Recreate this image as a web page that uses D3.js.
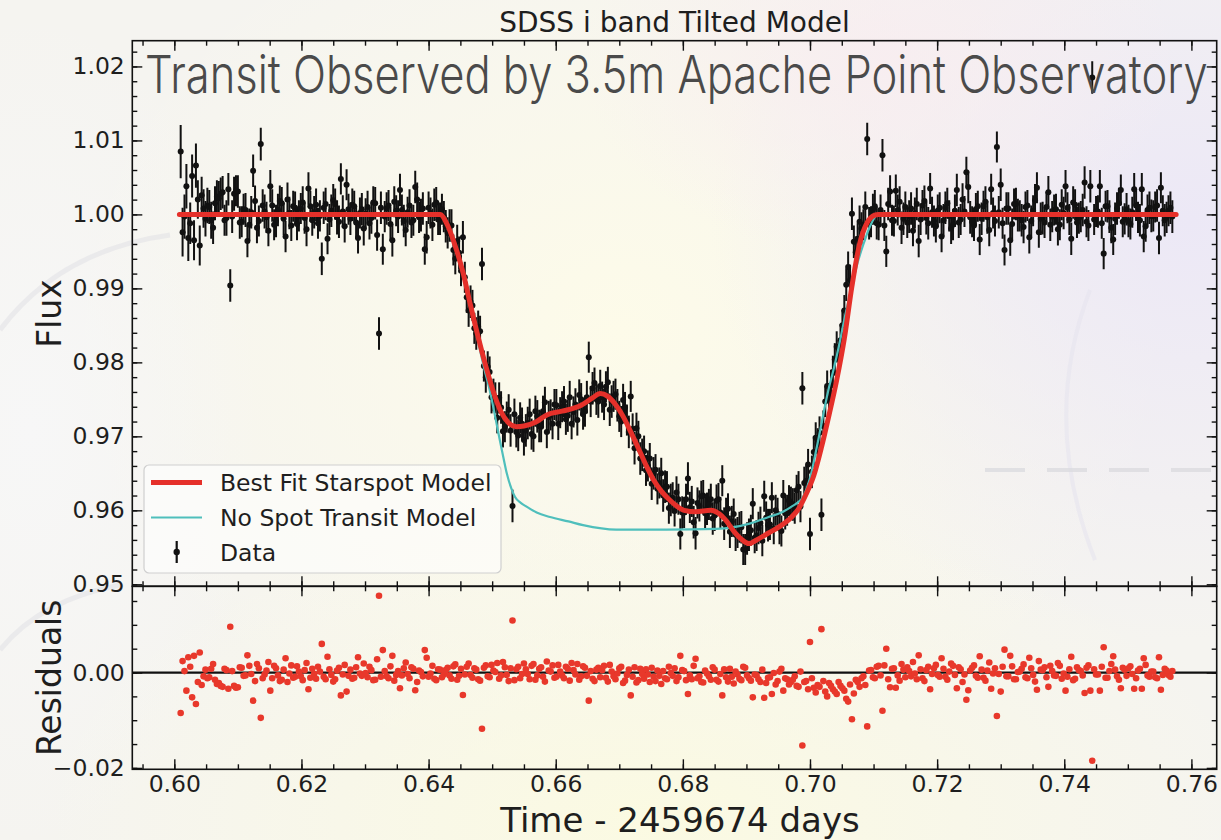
<!DOCTYPE html>
<html>
<head>
<meta charset="utf-8">
<script src="https://cdn.jsdelivr.net/npm/d3@7"></script>
<style>
  html, body { margin: 0; padding: 0; background: #f5f4f0; }
  svg { display: block; }
  .tick text { font-family: "DejaVu Sans", sans-serif; font-size: 23.5px; fill: #1e1e1e; }
  .tick line { stroke: #111; stroke-width: 1.4; }
  .lbl { font-family: "DejaVu Sans", sans-serif; fill: #1e1e1e; }
</style>
</head>
<body>
<div id="chart"></div>
<script>
// ---- data (time in 1e-4 day offsets from JD 2459674, flux / residual in 1e-4 units) ----
// first block: exposures at ...0, ...6 ; second block: the exposures in between
const timeE4 = [
  6010,6016,6022,6028,6034,6040,6046,6052,6058,6064,
  6070,6076,6082,6088,6094,6100,6106,6112,6118,6124,
  6130,6136,6142,6148,6154,6160,6166,6172,6178,6184,
  6190,6196,6202,6208,6214,6220,6226,6232,6238,6244,
  6250,6256,6262,6268,6274,6280,6286,6292,6298,6304,
  6310,6316,6322,6328,6334,6340,6346,6352,6358,6364,
  6370,6376,6382,6388,6394,6400,6406,6412,6418,6424,
  6430,6436,6442,6448,6454,6460,6466,6472,6478,6484,
  6490,6496,6502,6508,6514,6520,6526,6532,6538,6544,
  6550,6556,6562,6568,6574,6580,6586,6592,6598,6604,
  6610,6616,6622,6628,6634,6640,6646,6652,6658,6664,
  6670,6676,6682,6688,6694,6700,6706,6712,6718,6724,
  6730,6736,6742,6748,6754,6760,6766,6772,6778,6784,
  6790,6796,6802,6808,6814,6820,6826,6832,6838,6844,
  6850,6856,6862,6868,6874,6880,6886,6892,6898,6904,
  6910,6916,6922,6928,6934,6940,6946,6952,6958,6964,
  6970,6976,6982,6988,6994,7000,7006,7012,7018,7024,
  7030,7036,7042,7048,7054,7060,7066,7072,7078,7084,
  7090,7096,7102,7108,7114,7120,7126,7132,7138,7144,
  7150,7156,7162,7168,7174,7180,7186,7192,7198,7204,
  7210,7216,7222,7228,7234,7240,7246,7252,7258,7264,
  7270,7276,7282,7288,7294,7300,7306,7312,7318,7324,
  7330,7336,7342,7348,7354,7360,7366,7372,7378,7384,
  7390,7396,7402,7408,7414,7420,7426,7432,7438,7444,
  7450,7456,7462,7468,7474,7480,7486,7492,7498,7504,
  7510,7516,7522,7528,7534,7540,7546,7552,7558,7564,
  7570,
  6013,6019,6025,6031,6037,6043,6049,6055,6061,6067,
  6073,6079,6085,6091,6097,6103,6109,6115,6121,6127,
  6133,6139,6145,6151,6157,6163,6169,6175,6181,6187,
  6193,6199,6205,6211,6217,6223,6229,6235,6241,6247,
  6253,6259,6265,6271,6277,6283,6289,6295,6301,6307,
  6313,6319,6325,6331,6337,6343,6349,6355,6361,6367,
  6373,6379,6385,6391,6397,6403,6409,6415,6421,6427,
  6433,6439,6445,6451,6457,6463,6469,6475,6481,6487,
  6493,6499,6505,6511,6517,6523,6529,6535,6541,6547,
  6553,6559,6565,6571,6577,6583,6589,6595,6601,6607,
  6613,6619,6625,6631,6637,6643,6649,6655,6661,6667,
  6673,6679,6685,6691,6697,6703,6709,6715,6721,6727,
  6733,6739,6745,6751,6757,6763,6769,6775,6781,6787,
  6793,6799,6805,6811,6817,6823,6829,6835,6841,6847,
  6853,6859,6865,6871,6877,6883,6889,6895,6901,6907,
  6913,6919,6925,6931,6937,6943,6949,6955,6961,6967,
  6973,6979,6985,6991,6997,7003,7009,7015,7021,7027,
  7033,7039,7045,7051,7057,7063,7069,7075,7081,7087,
  7093,7099,7105,7111,7117,7123,7129,7135,7141,7147,
  7153,7159,7165,7171,7177,7183,7189,7195,7201,7207,
  7213,7219,7225,7231,7237,7243,7249,7255,7261,7267,
  7273,7279,7285,7291,7297,7303,7309,7315,7321,7327,
  7333,7339,7345,7351,7357,7363,7369,7375,7381,7387,
  7393,7399,7405,7411,7417,7423,7429,7435,7441,7447,
  7453,7459,7465,7471,7477,7483,7489,7495,7501,7507,
  7513,7519,7525,7531,7537,7543,7549,7555,7561,7567
];

const fluxE4 = [
  10085,9997,9968,10052,10066,9958,10008,10012,9992,10015,
  10022,10030,9995,9904,10028,10031,9990,10006,9986,10059,
  9982,10095,10004,9978,10012,9991,10018,9994,10020,9985,
  10009,9998,10016,9980,10011,10003,9988,9940,10014,9993,
  10019,9996,10048,9984,10007,10013,9989,10002,9981,10010,
  9995,10015,9839,9953,10008,9987,10017,9997,10006,9979,
  10012,9992,10020,9999,9953,10009,9986,10016,9994,9997,
  9975,9985,9940,9948,9969,9888,9882,9846,9848,9933,
  9780,9787,9756,9725,9739,9713,9736,9606,9706,9725,
  9695,9718,9703,9734,9714,9734,9706,9729,9743,9717,
  9740,9723,9753,9733,9722,9750,9734,9807,9765,9750,
  9768,9743,9773,9747,9757,9727,9749,9722,9754,9684,
  9700,9675,9654,9670,9650,9629,9650,9632,9603,9617,
  9624,9568,9597,9643,9612,9569,9606,9620,9602,9615,
  9593,9615,9640,9596,9571,9595,9570,9577,9547,9567,
  9609,9566,9583,9619,9580,9617,9600,9576,9620,9600,
  9610,9603,9632,9765,9640,9568,9679,9690,9594,9747,
  9751,9787,9821,9830,9870,9929,10001,9949,9990,9986,
  10102,9990,10011,9986,10080,9950,10031,9991,10006,9982,
  10010,9997,9978,10014,9993,10018,9988,10003,9984,10009,
  9992,10015,9981,10005,9989,10020,10057,9996,9985,10011,
  9994,10017,9979,10002,10091,10040,9952,10008,9987,10014,
  9998,9983,10012,9991,10019,9976,9995,10010,9986,10006,
  9980,10013,10038,9993,10016,9989,9997,10043,9985,10185,
  10004,10038,9947,10011,9982,9994,10015,9990,10007,9987,
  10034,9996,10034,9984,10009,9998,10012,10036,9992,10005,
  9997,
  9976,10038,9988,9965,10020,10026,9994,10010,9982,10024,
  10028,9992,10034,9997,10032,9989,10007,9964,10003,10018,
  9991,10012,9996,10038,9986,10006,10015,9970,10002,10011,
  9987,10008,9995,10035,9992,10013,9998,10009,9967,10005,
  10014,9990,10004,10040,9994,10011,9968,10007,10001,9988,
  10016,9972,10009,9997,10012,9965,10005,10033,9991,10003,
  9989,10037,9996,10008,9969,10002,10013,9993,10007,9984,
  9985,9952,9964,9924,9915,9870,9877,9839,9842,9795,
  9794,9753,9752,9752,9707,9726,9708,9730,9701,9717,
  9708,9730,9700,9727,9713,9746,9726,9717,9742,9732,
  9747,9728,9717,9743,9756,9730,9753,9747,9772,9747,
  9753,9767,9736,9754,9742,9720,9739,9706,9710,9711,
  9670,9680,9660,9636,9655,9637,9620,9632,9614,9599,
  9615,9597,9615,9604,9584,9610,9619,9596,9608,9589,
  9613,9597,9582,9602,9585,9567,9577,9547,9562,9573,
  9563,9576,9559,9590,9581,9575,9595,9572,9596,9613,
  9608,9627,9605,9637,9662,9652,9698,9705,9714,9768,
  9769,9804,9809,9850,9905,9911,9963,9967,9981,10010,
  9988,10007,9988,10006,9985,10014,9992,10032,10017,9994,
  9989,10008,10002,9964,10012,9995,10035,9991,10005,9970,
  10009,9998,9986,10033,9993,10004,10037,9990,10007,9966,
  10011,9996,10034,9991,10003,9988,10008,9965,10014,9999,
  9992,10010,9969,10005,10036,9994,9989,10030,9997,10007,
  9986,10002,10009,9967,10013,9995,10006,9990,10038,9993,
  10004,9988,10011,9997,9966,10008,10033,9994,9991,10003,
  10012,9992,9970,10006,9998,10010,9968,10005,9996,10009
];

const fluxErrE4 = [
  36,30,31,29,30,27,26,24,25,23,
  23,22,24,22,23,22,21,23,22,22,
  21,22,23,21,22,22,21,22,23,21,
  22,21,22,23,21,22,21,22,22,21,
  22,23,21,22,21,22,22,21,23,22,
  21,22,22,21,22,23,21,22,21,22,
  22,21,23,22,21,22,22,21,22,21,
  21,22,21,22,22,21,22,21,22,22,
  21,21,22,21,22,21,21,22,21,21,
  21,22,21,21,22,21,22,21,21,22,
  21,21,22,21,21,22,21,21,22,21,
  22,21,21,22,21,21,22,21,21,22,
  21,22,21,21,22,21,21,22,21,21,
  22,21,21,22,21,22,21,21,22,21,
  21,22,21,21,22,21,21,22,21,22,
  21,21,22,21,22,21,21,22,21,21,
  22,21,21,22,21,22,21,21,22,21,
  21,22,21,22,21,21,22,21,22,21,
  22,21,22,21,22,21,22,21,21,22,
  21,22,21,22,21,21,22,21,22,21,
  22,21,21,22,21,22,21,22,21,21,
  22,21,22,21,21,22,21,22,21,22,
  21,22,21,21,22,21,22,21,22,21,
  22,21,22,21,22,21,21,22,21,22,
  21,22,21,22,21,22,21,21,22,21,
  22,21,22,21,22,21,22,21,22,21,
  22,
  33,30,28,27,26,25,24,23,22,22,
  22,21,22,22,21,22,21,22,22,21,
  21,22,21,22,21,22,22,21,22,21,
  22,21,21,22,21,22,21,22,21,22,
  21,22,22,21,22,21,21,22,21,22,
  22,21,22,21,21,22,21,22,22,21,
  21,22,21,22,22,21,22,21,21,22,
  22,21,22,21,21,22,21,22,21,21,
  21,22,21,21,22,21,22,21,21,22,
  22,21,21,22,21,21,22,21,22,21,
  21,22,21,22,21,21,22,21,21,22,
  21,21,22,21,22,21,21,22,21,21,
  22,21,21,22,21,21,22,21,22,21,
  21,22,21,21,22,21,21,22,21,22,
  22,21,22,21,21,22,21,21,22,21,
  21,22,21,22,21,21,22,21,22,21,
  22,21,21,22,21,22,21,22,21,21,
  21,22,21,21,22,21,22,21,22,21,
  22,21,22,21,21,22,21,22,21,22,
  21,22,21,22,21,22,21,21,22,21,
  22,21,21,22,21,21,22,21,22,21,
  21,22,21,21,22,21,22,21,21,22,
  22,21,22,21,21,22,21,22,21,21,
  21,22,21,22,21,21,22,21,22,21,
  22,21,21,22,21,22,21,21,22,21,
  21,22,21,21,22,21,22,21,21,22
];

// residual = model - data
const residualE4 = [
  -85,3,32,-52,-66,42,-8,-12,8,-15,
  -22,-30,5,96,-28,-31,10,-6,14,-59,
  18,-95,-4,22,-12,9,-18,6,-20,15,
  -9,2,-16,20,-11,-3,12,60,-14,7,
  -19,4,-48,16,-7,-13,11,-2,19,-10,
  5,-15,161,47,-8,13,-17,3,-6,21,
  -12,8,-20,1,47,-9,14,-16,6,-4,
  10,-13,17,-7,-47,12,-5,9,-14,-118,
  15,-10,4,20,-6,11,-18,109,7,-12,
  19,-3,14,-15,8,-9,23,2,-11,16,
  -6,12,-17,5,18,-8,10,-59,-13,6,
  -10,14,-19,2,-14,9,-22,-5,-48,11,
  -16,-3,7,-20,-9,4,-24,-12,12,-7,
  -18,35,3,-45,-14,29,-8,-21,-2,-15,
  6,-19,-48,-10,8,-23,-4,-16,10,-12,
  -52,-6,-20,-53,-11,-45,-25,2,-38,-14,
  -20,-8,-30,-153,-18,64,-32,-26,91,-40,
  -22,-35,-45,-28,-38,-61,-98,-15,-30,-8,
  -113,5,-12,14,-80,50,-31,9,-6,18,
  -10,3,22,-14,7,-18,12,-3,16,-9,
  8,-15,19,-5,11,-20,-57,4,15,-11,
  6,-17,21,-2,-91,-40,48,-8,13,-14,
  2,17,-12,9,-19,24,5,-10,14,-6,
  20,-13,-38,7,-16,11,3,-43,15,-185,
  -4,-38,53,-11,18,6,-15,10,-7,13,
  -34,4,-34,16,-9,2,-12,-36,8,-5,
  3,
  24,-38,12,35,-20,-26,6,-10,18,-24,
  -28,8,-34,3,-32,11,-7,36,-3,-18,
  9,-12,4,-38,14,-6,-15,30,-2,-11,
  13,-8,5,-35,8,-13,2,-9,33,-5,
  -14,10,-4,-40,6,-11,32,-7,-1,12,
  -16,28,-9,3,-12,35,-5,-33,9,-3,
  11,-37,4,-8,31,-2,-13,7,-10,5,
  -6,13,-15,8,-4,19,-11,6,-17,10,
  -8,16,1,-13,22,-5,9,-16,12,-3,
  7,-14,18,-6,11,-19,4,15,-9,2,
  -12,8,20,-4,-15,13,-7,3,-18,10,
  5,-11,16,-8,-2,12,-17,6,-9,-21,
  8,-13,-4,10,-18,-7,3,-14,-1,9,
  -10,5,-16,-6,14,-12,-20,4,-8,11,
  -15,-3,7,-19,-9,2,-13,12,-6,-17,
  -4,-14,6,-22,-10,-1,-18,8,-12,-25,
  -15,-28,2,-20,-35,-12,-42,-30,-18,-50,
  -28,-40,-20,-33,-55,-25,-44,-20,-12,-26,
  4,-10,12,-6,15,-14,8,-32,-17,6,
  11,-8,-2,36,-12,5,-35,9,-5,30,
  -9,2,14,-33,7,-4,-37,10,-7,34,
  -11,4,-34,9,-3,12,-8,35,-14,1,
  8,-10,31,-5,-36,6,11,-30,3,-7,
  14,-2,-9,33,-13,5,-6,10,-38,7,
  -4,12,-11,3,34,-8,-33,6,9,-3,
  -12,8,30,-6,2,-10,32,-5,4,-9
];

// model curves [time, flux], 1e-4 units
const spotModelE4 = [
  [6008,10000],[6418,10000],[6430,9985],[6442,9957],[6454,9922],[6466,9877],[6478,9834],
  [6490,9795],[6502,9760],[6514,9733],[6526,9718],[6538,9713],[6550,9714],[6568,9719],
  [6586,9729],[6610,9734],[6640,9742],[6658,9752],[6670,9758],[6682,9754],[6694,9743],
  [6706,9727],[6718,9706],[6730,9684],[6742,9661],[6754,9641],[6766,9626],[6778,9615],
  [6790,9606],[6802,9600],[6820,9598],[6844,9600],[6856,9596],[6868,9586],[6880,9572],
  [6892,9561],[6904,9555],[6916,9560],[6934,9569],[6952,9578],[6970,9590],[6982,9602],
  [6994,9622],[7006,9647],[7018,9685],[7030,9729],[7042,9776],[7054,9832],[7066,9903],
  [7078,9960],[7090,9989],[7102,9999],[7108,10000],[7576,10000]
];

const noSpotModelE4 = [
  [6008,10000],[6418,10000],[6430,9985],[6440,9962],[6450,9935],[6460,9900],[6470,9862],
  [6480,9820],[6488,9790],[6496,9763],[6504,9730],[6512,9695],[6518,9670],[6523,9650],
  [6530,9630],[6536,9618],[6545,9610],[6554,9605],[6570,9597],[6591,9591],[6620,9585],
  [6643,9580],[6695,9574],[6774,9574],[6853,9575],[6905,9582],[6935,9591],[6955,9597],
  [6971,9605],[6980,9610],[6989,9618],[6995,9630],[7002,9650],[7007,9670],[7013,9695],
  [7021,9730],[7029,9763],[7037,9790],[7045,9820],[7055,9862],[7065,9900],[7075,9935],
  [7085,9962],[7095,9985],[7107,10000],[7576,10000]
];

const timeTicks = [0.60, 0.62, 0.64, 0.66, 0.68, 0.70, 0.72, 0.74, 0.76];
const fluxTicks = [0.95, 0.96, 0.97, 0.98, 0.99, 1.00, 1.01, 1.02];
const residTicks = [-0.02, 0.00];

const titleText = "SDSS i band Tilted Model";
const overlayText = "Transit Observed by 3.5m Apache Point Observatory";
const legendLabels = ["Best Fit Starspot Model", "No Spot Transit Model", "Data"];

// ---- build points ----
const obs = timeE4.map((t, i) => ({
  t: t / 1e4,
  f: fluxE4[i] / 1e4,
  e: fluxErrE4[i] / 1e4,
  r: residualE4[i] / 1e4
}));

// ---- layout ----
const W = 1221, H = 840;
const pLeft = 132.3, pRight = 1216.7, pTop = 40.7, pMid = 586.3, pBottom = 769.3;

const red = "#e5302a", teal = "#4fbfbc", dotRed = "#e8382b";

const x = d3.scaleLinear().domain([0.59339, 0.76398]).range([pLeft, pRight]);
const yFlux = d3.scaleLinear().domain([0.94973, 1.02348]).range([pMid, pTop]);
const yRes = d3.scaleLinear().domain([-0.02029, 0.01808]).range([pBottom, pMid]);

const svg = d3.select("#chart").append("svg")
    .attr("width", W)
    .attr("height", H);

const defs = svg.append("defs");

// soft watermark-like background
function radial(id, color, op) {
    const g = defs.append("radialGradient").attr("id", id);
    g.append("stop").attr("offset", "0%").attr("stop-color", color).attr("stop-opacity", op);
    g.append("stop").attr("offset", "100%").attr("stop-color", color).attr("stop-opacity", 0);
}
radial("gCream", "#fdfbe9", 1);
radial("gLav", "#ece8f6", 1);
radial("gPink", "#f8edf0", 0.9);
radial("gYellow", "#fbfae2", 1);
radial("gWhite", "#f7f7f7", 1);

svg.append("rect").attr("width", W).attr("height", H).attr("fill", "#f5f4f0");
svg.append("ellipse").attr("cx", 620).attr("cy", 330).attr("rx", 560).attr("ry", 460).attr("fill", "url(#gCream)");
svg.append("ellipse").attr("cx", 650).attr("cy", 820).attr("rx", 620).attr("ry", 320).attr("fill", "url(#gYellow)");
svg.append("ellipse").attr("cx", 1190).attr("cy", 220).attr("rx", 480).attr("ry", 420).attr("fill", "url(#gLav)");
svg.append("ellipse").attr("cx", 880).attr("cy", 60).attr("rx", 300).attr("ry", 200).attr("fill", "url(#gPink)");
svg.append("ellipse").attr("cx", 30).attr("cy", 430).attr("rx", 230).attr("ry", 420).attr("fill", "url(#gWhite)");

// faint arcs and the dashed stroke of the watermark
svg.append("path")
    .attr("d", "M0,330 Q60,250 170,235")
    .attr("fill", "none").attr("stroke", "#e3e3e6").attr("stroke-width", 5).attr("opacity", 0.6);
svg.append("path")
    .attr("d", "M0,650 Q40,600 120,585")
    .attr("fill", "none").attr("stroke", "#e3e3e6").attr("stroke-width", 5).attr("opacity", 0.6);
svg.append("path")
    .attr("d", "M1090,290 Q1040,420 1095,560")
    .attr("fill", "none").attr("stroke", "#e6e5ee").attr("stroke-width", 4).attr("opacity", 0.6);
svg.append("line")
    .attr("x1", 985).attr("x2", W).attr("y1", 470).attr("y2", 470)
    .attr("stroke", "#dcdce0").attr("stroke-width", 4).attr("stroke-dasharray", "40 22").attr("opacity", 0.8);

// clip paths
defs.append("clipPath").attr("id", "clipTop").append("rect")
    .attr("x", pLeft).attr("y", pTop).attr("width", pRight - pLeft).attr("height", pMid - pTop);
defs.append("clipPath").attr("id", "clipRes").append("rect")
    .attr("x", pLeft).attr("y", pMid).attr("width", pRight - pLeft).attr("height", pBottom - pMid);

// ---- top panel: data ----
const gTop = svg.append("g").attr("clip-path", "url(#clipTop)");

gTop.append("g").selectAll("line")
    .data(obs).enter().append("line")
    .attr("x1", d => x(d.t)).attr("x2", d => x(d.t))
    .attr("y1", d => yFlux(d.f - d.e)).attr("y2", d => yFlux(d.f + d.e))
    .attr("stroke", "#111").attr("stroke-width", 2);

gTop.append("g").selectAll("circle")
    .data(obs).enter().append("circle")
    .attr("cx", d => x(d.t)).attr("cy", d => yFlux(d.f))
    .attr("r", 3).attr("fill", "#111");

const line = d3.line()
    .x(d => x(d[0] / 1e4))
    .y(d => yFlux(d[1] / 1e4))
    .curve(d3.curveMonotoneX);

gTop.append("path").datum(noSpotModelE4)
    .attr("d", line).attr("fill", "none")
    .attr("stroke", teal).attr("stroke-width", 2.2);

gTop.append("path").datum(spotModelE4)
    .attr("d", line).attr("fill", "none")
    .attr("stroke", red).attr("stroke-width", 5)
    .attr("stroke-linejoin", "round").attr("stroke-linecap", "round");

// ---- residual panel ----
const gRes = svg.append("g").attr("clip-path", "url(#clipRes)");

gRes.append("line")
    .attr("x1", pLeft).attr("x2", pRight)
    .attr("y1", yRes(0)).attr("y2", yRes(0))
    .attr("stroke", "#111").attr("stroke-width", 2.2);

gRes.append("g").selectAll("circle")
    .data(obs).enter().append("circle")
    .attr("cx", d => x(d.t)).attr("cy", d => yRes(d.r))
    .attr("r", 3.3).attr("fill", dotRed);

// ---- axes (ticks point inward on all four sides) ----
function addTicks(maker, scale, values, len, labels, fmt, pos, pad) {
    const ax = maker(scale)
        .tickValues(values)
        .tickSizeInner(-len)
        .tickSizeOuter(0)
        .tickPadding(pad || 8)
        .tickFormat(labels ? d3.format(fmt) : "");
    const g = svg.append("g").attr("transform", pos).call(ax);
    g.select(".domain").remove();
    return g;
}

const xMinor = d3.range(119, 153).map(k => k * 0.005);
const fluxMinor = d3.range(475, 512).map(k => k * 0.002);
const resMinor = d3.range(-4, 4).map(k => k * 0.005);

// top panel
addTicks(d3.axisLeft, yFlux, fluxMinor, 5, false, "", `translate(${pLeft},0)`);
addTicks(d3.axisLeft, yFlux, fluxTicks, 10, true, ".2f", `translate(${pLeft},0)`, 7.5);
addTicks(d3.axisRight, yFlux, fluxMinor, 5, false, "", `translate(${pRight},0)`);
addTicks(d3.axisRight, yFlux, fluxTicks, 10, false, "", `translate(${pRight},0)`);
addTicks(d3.axisTop, x, xMinor, 5, false, "", `translate(0,${pTop})`);
addTicks(d3.axisTop, x, timeTicks, 10, false, "", `translate(0,${pTop})`);
addTicks(d3.axisBottom, x, xMinor, 5, false, "", `translate(0,${pMid})`);
addTicks(d3.axisBottom, x, timeTicks, 10, false, "", `translate(0,${pMid})`);

// residual panel
addTicks(d3.axisLeft, yRes, resMinor, 5, false, "", `translate(${pLeft},0)`);
addTicks(d3.axisLeft, yRes, residTicks, 10, true, ".2f", `translate(${pLeft},0)`, 7.5);
addTicks(d3.axisRight, yRes, resMinor, 5, false, "", `translate(${pRight},0)`);
addTicks(d3.axisRight, yRes, residTicks, 10, false, "", `translate(${pRight},0)`);
addTicks(d3.axisTop, x, xMinor, 5, false, "", `translate(0,${pMid})`);
addTicks(d3.axisTop, x, timeTicks, 10, false, "", `translate(0,${pMid})`);
addTicks(d3.axisBottom, x, xMinor, 5, false, "", `translate(0,${pBottom})`);
addTicks(d3.axisBottom, x, timeTicks, 10, true, ".2f", `translate(0,${pBottom})`, 6);

// spines
[[pTop, pMid], [pMid, pBottom]].forEach(([a, b]) => {
    svg.append("rect")
        .attr("x", pLeft).attr("y", a)
        .attr("width", pRight - pLeft).attr("height", b - a)
        .attr("fill", "none").attr("stroke", "#111").attr("stroke-width", 1.6);
});

// ---- legend ----
const lg = svg.append("g");
lg.append("rect")
    .attr("x", 144).attr("y", 465).attr("width", 357).attr("height", 108).attr("rx", 5)
    .attr("fill", "#ffffff").attr("fill-opacity", 0.55)
    .attr("stroke", "#cfcfcf").attr("stroke-width", 1.2);
lg.append("line").attr("x1", 151).attr("x2", 202).attr("y1", 482.5).attr("y2", 482.5)
    .attr("stroke", red).attr("stroke-width", 5);
lg.append("line").attr("x1", 151).attr("x2", 202).attr("y1", 517.5).attr("y2", 517.5)
    .attr("stroke", teal).attr("stroke-width", 2.2);
lg.append("line").attr("x1", 176.7).attr("x2", 176.7).attr("y1", 541).attr("y2", 563)
    .attr("stroke", "#111").attr("stroke-width", 2.2);
lg.append("circle").attr("cx", 176.7).attr("cy", 552).attr("r", 3.2).attr("fill", "#111");
legendLabels.forEach((t, i) => {
    lg.append("text").attr("class", "lbl")
        .attr("x", 220).attr("y", 482.5 + i * 35 + 8.5)
        .style("font-size", "23.5px")
        .text(t);
});

// ---- titles and labels ----
svg.append("text").attr("class", "lbl")
    .attr("x", (pLeft + pRight) / 2).attr("y", 32)
    .attr("text-anchor", "middle")
    .style("font-size", "28px")
    .text(titleText);

svg.append("text").attr("class", "lbl")
    .attr("transform", `translate(61,${(pTop + pMid) / 2}) rotate(-90)`)
    .attr("text-anchor", "middle")
    .style("font-size", "33px")
    .text("Flux");

svg.append("text").attr("class", "lbl")
    .attr("transform", `translate(61,${(pMid + pBottom) / 2}) rotate(-90)`)
    .attr("text-anchor", "middle")
    .style("font-size", "33px")
    .text("Residuals");

svg.append("text").attr("class", "lbl")
    .attr("x", 680).attr("y", 832)
    .attr("text-anchor", "middle")
    .style("font-size", "34px")
    .text("Time - 2459674 days");

// overlay caption, squeezed horizontally to the span it covers in the figure
const overlay = svg.append("text")
    .attr("x", 0).attr("y", 0)
    .style("font-family", "Inter, 'Noto Sans', sans-serif")
    .style("font-weight", 300)
    .style("font-size", "52px")
    .style("fill", "#4a4a4a")
    .text(overlayText);
const natural = overlay.node().getComputedTextLength();
overlay.attr("transform", `translate(145,93.3) scale(${1063 / natural},1)`);
</script>
</body>
</html>
